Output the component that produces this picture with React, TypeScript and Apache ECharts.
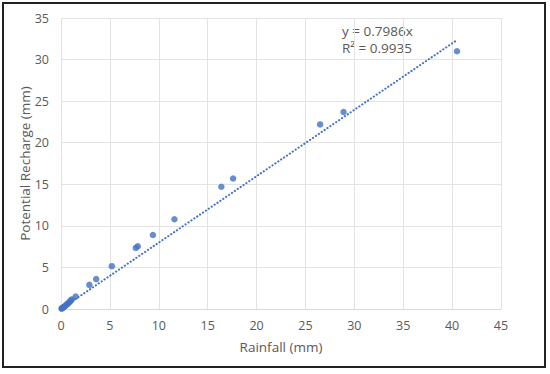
import React, { useEffect, useRef } from "react";
import * as echarts from "echarts";

const rainfall = [0.05, 0.1, 0.15, 0.2, 0.3, 0.4, 0.5, 0.6, 0.7, 0.8, 0.9, 1.0, 1.1, 1.5, 2.9, 3.6, 5.2, 7.65, 7.85, 9.4, 11.6, 16.4, 17.6, 26.5, 28.9, 40.5];
const recharge = [0.05, 0.08, 0.12, 0.18, 0.25, 0.35, 0.45, 0.55, 0.65, 0.75, 0.9, 1.0, 1.15, 1.5, 2.9, 3.6, 5.15, 7.35, 7.55, 8.9, 10.8, 14.7, 15.7, 22.2, 23.7, 31.0];
const slope = 0.7986;
const trendX = [0, 40.5];
const xTicks = [0, 5, 10, 15, 20, 25, 30, 35, 40, 45];
const yTicks = [0, 5, 10, 15, 20, 25, 30, 35];

export default function App() {
  const ref = useRef<HTMLDivElement>(null);
  useEffect(() => {
    document.body.style.margin = "0";
    const chart = echarts.init(ref.current!, null, { renderer: "svg" });
    const font = "Open Sans, Noto Sans, sans-serif";
    const color = "#595959";
    chart.setOption({
      animation: false,
      backgroundColor: "#ffffff",
      grid: { left: 61, right: 49, top: 18, bottom: 65, containLabel: false },
      xAxis: {
        type: "value",
        min: xTicks[0],
        max: xTicks[xTicks.length - 1],
        interval: 5,
        name: "Rainfall (mm)",
        nameLocation: "middle",
        nameGap: 31,
        nameMoveOverlap: false,
        nameTextStyle: { color, fontSize: 13.5, fontFamily: font },
        axisLine: { show: true, lineStyle: { color: "#D9D9D9" } },
        axisTick: { show: false },
        axisLabel: { color, fontSize: 12.5, fontFamily: font, margin: 10 },
        splitLine: { show: true, lineStyle: { color: "#E3E3E3" } },
      },
      yAxis: {
        type: "value",
        min: yTicks[0],
        max: yTicks[yTicks.length - 1],
        interval: 5,
        name: "Potential Recharge (mm)",
        nameLocation: "middle",
        nameGap: 29,
        nameMoveOverlap: false,
        nameTextStyle: { color, fontSize: 13.5, fontFamily: font },
        axisLine: { show: false },
        axisTick: { show: false },
        axisLabel: { color, fontSize: 12.5, fontFamily: font, margin: 12 },
        splitLine: { show: true, lineStyle: { color: "#E3E3E3" } },
      },
      graphic: [
        {
          type: "rect",
          shape: { x: 3, y: 3, width: 542, height: 364 },
          style: { fill: "none", stroke: "#222222", lineWidth: 2 },
          silent: true,
        },
        {
          type: "text",
          x: 342,
          y: 24,
          style: { text: "y = 0.7986x", fill: color, font: `13.5px ${font}` },
        },
        {
          type: "text",
          x: 342,
          y: 41,
          style: { text: "R² = 0.9935", fill: color, font: `13.5px ${font}` },
        },
      ],
      series: [
        {
          type: "line",
          data: trendX.map((x) => [x, slope * x]),
          symbol: "none",
          lineStyle: { color: "#4472C4", width: 2, type: [0.3, 3.2], cap: "round" },
          z: 2,
        },
        {
          type: "scatter",
          data: rainfall.map((x, i) => [x, recharge[i]]),
          symbolSize: 6.5,
          itemStyle: { color: "#4472C4" },
          z: 3,
        },
      ],
    });
    return () => chart.dispose();
  }, []);
  return <div ref={ref} style={{ width: 550, height: 374, position: "absolute", left: 0, top: 0 }} />;
}
